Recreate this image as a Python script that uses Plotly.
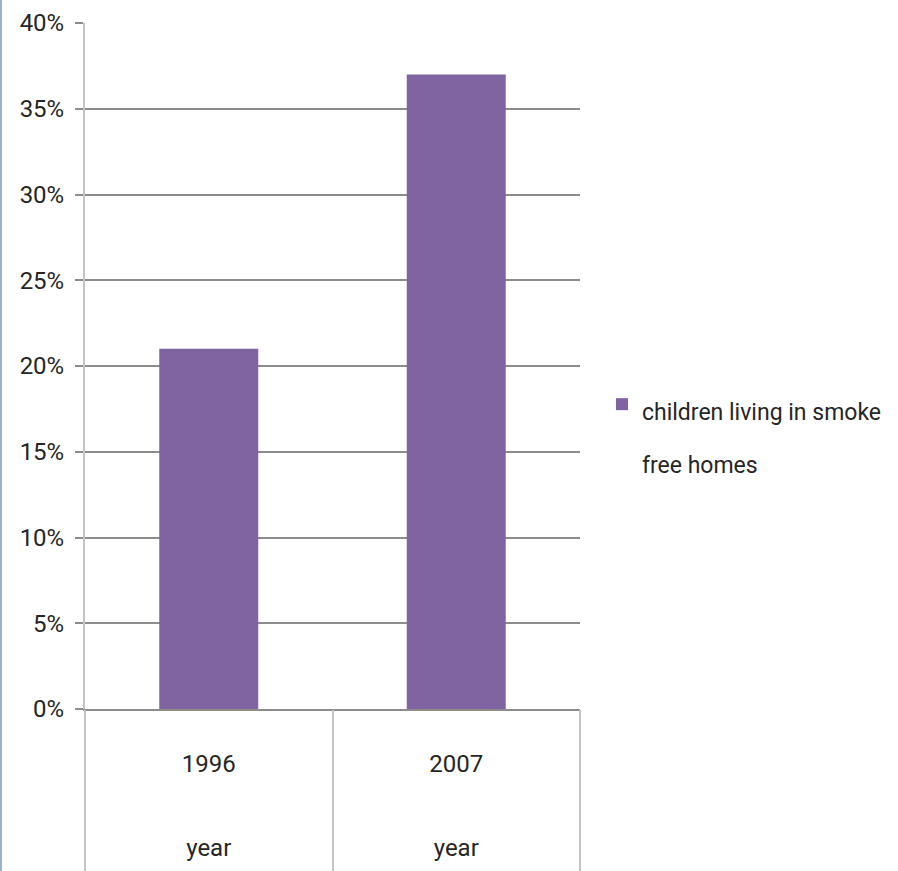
import plotly.graph_objects as go

# Share of children living in smoke-free homes
years = ["1996", "2007"]
shares = [0.21, 0.37]
level_label = "year"
legend_lines = ["children living in smoke", "free homes"]

FONT = "Roboto, Liberation Sans, Arial, sans-serif"
TEXT = "#262626"
GRID = "#8c8c8c"
EDGE = "#c4c4c4"
BAR = "#8064A2"
TXT_PX = 24


def sized(s, px=TXT_PX):
    return f"<span style='font-size:{px}px'>{s}</span>"


# two-level category labels: year value above the level name
tick_text = [sized(y) + "<br>" + sized(level_label) for y in years]
legend_name = "<br>".join(sized(s, 23) for s in legend_lines)

fig = go.Figure()
fig.add_trace(go.Bar(
    x=years, y=shares, name=legend_name,
    marker=dict(color=BAR, line=dict(width=0)),
    width=0.4, showlegend=True,
))
# companion trace that carries the categories for the divider axis
fig.add_trace(go.Scatter(
    x=years, y=shares, xaxis="x2", mode="none",
    showlegend=False, hoverinfo="skip",
))

fig.update_layout(
    width=898, height=871,
    margin=dict(l=85, r=318, t=23, b=162, autoexpand=False),
    paper_bgcolor="white", plot_bgcolor="white",
    font=dict(family=FONT, color=TEXT, size=TXT_PX),
    showlegend=True,
    legend=dict(
        x=1.0444, xanchor="left", y=0.4927, yanchor="top",
        font=dict(family=FONT, size=41, color=TEXT),
        valign="top", bgcolor="rgba(0,0,0,0)", borderwidth=0,
    ),
    xaxis=dict(
        type="category", categoryorder="array", categoryarray=years,
        range=[-0.5, 1.5],
        tickmode="array", tickvals=years, ticktext=tick_text,
        tickfont=dict(family=FONT, size=65, color=TEXT),
        ticks="", ticklabelstandoff=-17,
        showline=True, linecolor=GRID, linewidth=1.5,
        showgrid=False, zeroline=False,
    ),
    xaxis2=dict(
        type="category", categoryorder="array", categoryarray=years,
        range=[-0.5, 1.5], overlaying="x", anchor="y", side="bottom",
        tickson="boundaries", ticks="outside", ticklen=162,
        tickcolor=EDGE, tickwidth=2, showticklabels=False,
        showline=False, showgrid=False, zeroline=False,
    ),
    yaxis=dict(
        range=[0, 0.40], dtick=0.05, tick0=0, tickformat=".0%",
        tickfont=dict(family=FONT, size=TXT_PX, color=TEXT),
        ticks="outside", ticklen=8, tickcolor=GRID, tickwidth=1.5,
        ticklabelstandoff=6,
        showgrid=True, gridcolor=GRID, gridwidth=1.5,
        showline=True, linecolor=EDGE, linewidth=2,
        zeroline=False,
    ),
    shapes=[dict(
        type="line", xref="paper", yref="paper",
        x0=-84 / 495, x1=-84 / 495, y0=-162 / 686, y1=1 + 23 / 686,
        line=dict(color="#9fb3d1", width=2),
    )],
)

fig.write_html("out.html")
